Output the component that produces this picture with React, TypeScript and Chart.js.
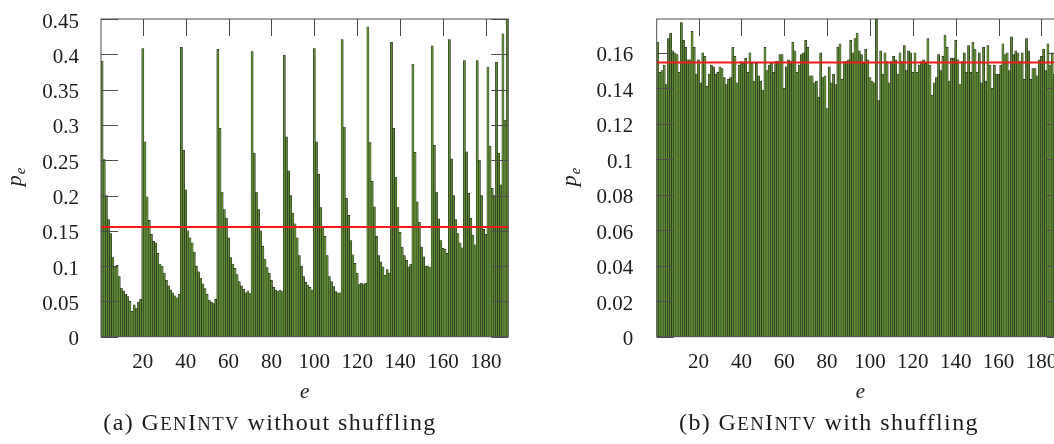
import React, { useEffect, useRef } from "react";
import { Chart, registerables } from "chart.js";

Chart.register(...registerables);

const FONT = '"Liberation Serif", "Times New Roman", serif';

// x (e) axis
const eTicks = [20, 40, 60, 80, 100, 120, 140, 160, 180];
const eMin = 0.5;
const eMax = 190.5;

// y axes
const yTicksNoShuffle = [0, 0.05, 0.1, 0.15, 0.2, 0.25, 0.3, 0.35, 0.4, 0.45];
const yTicksShuffle = [0, 0.02, 0.04, 0.06, 0.08, 0.1, 0.12, 0.14, 0.16];
const yMaxNoShuffle = 0.45;
const yMaxShuffle = 0.179;

// (a) GenIntv without shuffling: p_e for e = 1..190
const pNoShuffle = [
  0.390, 0.251, 0.200, 0.166, 0.146, 0.112, 0.100, 0.101, 0.085, 0.069, 0.065, 0.060, 0.057, 0.050, 0.036, 0.045, 0.040, 0.049, 0.053,
  0.408, 0.276, 0.198, 0.165, 0.145, 0.135, 0.133, 0.118, 0.103, 0.100, 0.090, 0.080, 0.072, 0.066, 0.062, 0.058, 0.055, 0.060,
  0.410, 0.264, 0.208, 0.150, 0.140, 0.133, 0.120, 0.100, 0.092, 0.083, 0.075, 0.068, 0.060, 0.052, 0.049, 0.047, 0.053,
  0.407, 0.295, 0.205, 0.180, 0.168, 0.140, 0.112, 0.103, 0.097, 0.088, 0.078, 0.072, 0.067, 0.062, 0.065, 0.061,
  0.404, 0.260, 0.205, 0.180, 0.150, 0.128, 0.110, 0.098, 0.090, 0.080, 0.070, 0.066, 0.064, 0.066, 0.064,
  0.399, 0.283, 0.235, 0.200, 0.175, 0.160, 0.140, 0.115, 0.100, 0.085, 0.077, 0.073, 0.070, 0.066,
  0.408, 0.276, 0.230, 0.183, 0.156, 0.142, 0.115, 0.085, 0.078, 0.071, 0.064, 0.062, 0.062,
  0.421, 0.297, 0.196, 0.172, 0.136, 0.116, 0.104, 0.090, 0.074, 0.076, 0.074, 0.076,
  0.439, 0.275, 0.220, 0.184, 0.142, 0.115, 0.106, 0.099, 0.087, 0.095, 0.090,
  0.417, 0.295, 0.226, 0.183, 0.148, 0.127, 0.115, 0.108, 0.099, 0.103,
  0.386, 0.261, 0.191, 0.162, 0.127, 0.113, 0.100, 0.100, 0.098,
  0.412, 0.271, 0.205, 0.167, 0.136, 0.125, 0.124, 0.118,
  0.421, 0.252, 0.200, 0.166, 0.146, 0.133, 0.126,
  0.391, 0.262, 0.203, 0.168, 0.144, 0.130,
  0.391, 0.250, 0.200, 0.152, 0.145,
  0.382, 0.270, 0.210, 0.200,
  0.389, 0.260, 0.215,
  0.429, 0.307,
  0.449,
];

// (b) GenIntv with shuffling: p_e for e = 1..190
const pShuffle = [
  0.166, 0.149, 0.150, 0.153, 0.142, 0.168, 0.171, 0.161, 0.160, 0.159,
  0.149, 0.177, 0.167, 0.163, 0.156, 0.156, 0.172, 0.163, 0.148, 0.156,
  0.143, 0.160, 0.158, 0.141, 0.148, 0.153, 0.152, 0.148, 0.149, 0.152,
  0.151, 0.146, 0.142, 0.145, 0.146, 0.163, 0.158, 0.143, 0.153, 0.155,
  0.154, 0.157, 0.149, 0.160, 0.154, 0.144, 0.154, 0.147, 0.144, 0.139,
  0.163, 0.150, 0.153, 0.154, 0.149, 0.155, 0.155, 0.159, 0.159, 0.140,
  0.152, 0.156, 0.155, 0.166, 0.161, 0.149, 0.153, 0.159, 0.160, 0.167,
  0.163, 0.147, 0.147, 0.143, 0.144, 0.135, 0.160, 0.146, 0.147, 0.1285,
  0.152, 0.143, 0.148, 0.142, 0.163, 0.165, 0.145, 0.155, 0.155, 0.156,
  0.167, 0.160, 0.168, 0.171, 0.161, 0.159, 0.154, 0.162, 0.156, 0.146,
  0.144, 0.143, 0.179, 0.133, 0.161, 0.148, 0.160, 0.155, 0.143, 0.155,
  0.158, 0.156, 0.148, 0.160, 0.155, 0.164, 0.150, 0.161, 0.160, 0.149,
  0.160, 0.149, 0.153, 0.155, 0.156, 0.154, 0.168, 0.153, 0.136, 0.143,
  0.146, 0.159, 0.150, 0.158, 0.170, 0.163, 0.144, 0.157, 0.157, 0.167,
  0.156, 0.142, 0.155, 0.160, 0.149, 0.164, 0.149, 0.166, 0.162, 0.149,
  0.160, 0.143, 0.163, 0.144, 0.164, 0.153, 0.140, 0.153, 0.148, 0.148,
  0.153, 0.165, 0.159, 0.160, 0.150, 0.169, 0.159, 0.161, 0.160, 0.155,
  0.160, 0.145, 0.168, 0.161, 0.145, 0.151, 0.151, 0.147, 0.156, 0.158,
  0.162, 0.150, 0.165, 0.153, 0.160, 0.148, 0.162, 0.155, 0.150, 0.158,
];

const meanNoShuffle = 0.1555;
const meanShuffle = 0.1545;

const BAR_FILL = "#5e8a35";
const BAR_EDGE = "#121212";
const AXIS_COLOR = "#4d4d4d";
const TEXT_COLOR = "#1c1c1c";

const CHART_TOP = 19;
const CHART_BOTTOM = 336.7;
const X_AXIS_H = 60;
const PAGE_H = 444;

type PanelProps = {
  values: number[];
  mean: number;
  yTicks: number[];
  yMax: number;
  boxLeft: number;
  boxWidth: number;
  axisWidth: number;
  padRight: number;
  tickPad: number;
};

function fmt(v: number) {
  return String(Number(Number(v).toFixed(4)));
}

const frameTicksPlugin = {
  id: "frameTicks",
  afterDatasetsDraw(chart: any) {
    const { ctx, chartArea, scales } = chart;
    const { left, right, top, bottom } = chartArea;
    const L = 17;
    ctx.save();
    ctx.strokeStyle = AXIS_COLOR;
    ctx.lineWidth = 1;
    ctx.beginPath();
    scales.x.ticks.forEach((t: any) => {
      const px = Math.round(scales.x.getPixelForValue(t.value)) + 0.5;
      ctx.moveTo(px, top);
      ctx.lineTo(px, top + L);
    });
    scales.y.ticks.forEach((t: any) => {
      const py = Math.round(scales.y.getPixelForValue(t.value)) + 0.5;
      ctx.moveTo(left, py);
      ctx.lineTo(left + L, py);
      ctx.moveTo(right, py);
      ctx.lineTo(right - L, py);
    });
    ctx.stroke();
    ctx.strokeRect(left, top, right - left, bottom - top);
    ctx.restore();
  },
};

const titlesPlugin = {
  id: "axisTitles",
  afterDraw(chart: any) {
    const { ctx, chartArea } = chart;
    const { left, right } = chartArea;
    ctx.save();
    ctx.fillStyle = TEXT_COLOR;
    // x title "e"
    ctx.font = `italic 21px ${FONT}`;
    ctx.textAlign = "center";
    ctx.textBaseline = "alphabetic";
    ctx.fillText("e", (left + right) / 2, 398);
    // y title "p_e" rotated
    ctx.translate(left - 80.5, 177);
    ctx.rotate(-Math.PI / 2);
    ctx.textAlign = "left";
    ctx.font = `italic 22px ${FONT}`;
    const wp = ctx.measureText("p").width;
    ctx.font = `italic 15px ${FONT}`;
    const we = ctx.measureText("e").width;
    const total = wp + we + 1;
    ctx.font = `italic 22px ${FONT}`;
    ctx.fillText("p", -total / 2, 0);
    ctx.font = `italic 15px ${FONT}`;
    ctx.fillText("e", -total / 2 + wp + 1, 4);
    ctx.restore();
  },
};

function Panel(p: PanelProps) {
  const ref = useRef<HTMLCanvasElement>(null);
  useEffect(() => {
    const canvas = ref.current;
    if (!canvas) return;
    const points = p.values.map((v, i) => ({ x: i + 1, y: v }));
    const chart = new Chart(canvas, {
      type: "bar",
      data: {
        datasets: [
          {
            type: "line",
            data: [
              { x: eMin, y: p.mean },
              { x: eMax, y: p.mean },
            ],
            borderColor: "#ee1c1c",
            borderWidth: 2,
            pointRadius: 0,
            order: 0,
          } as any,
          {
            type: "bar",
            data: points,
            backgroundColor: BAR_FILL,
            borderColor: BAR_EDGE,
            borderWidth: 0.5,
            borderSkipped: "bottom",
            barPercentage: 1,
            categoryPercentage: 1,
            order: 1,
          } as any,
        ],
      },
      options: {
        animation: false,
        responsive: true,
        maintainAspectRatio: false,
        events: [],
        layout: {
          padding: {
            left: 0,
            top: CHART_TOP,
            right: p.padRight,
            bottom: PAGE_H - CHART_BOTTOM - X_AXIS_H,
          },
        },
        plugins: {
          legend: { display: false },
          tooltip: { enabled: false },
        },
        scales: {
          x: {
            type: "linear",
            min: eMin,
            max: eMax,
            offset: false,
            grid: { display: false, drawTicks: false },
            border: { display: false },
            ticks: {
              font: { family: FONT, size: 21 },
              color: TEXT_COLOR,
              padding: 13,
              maxRotation: 0,
              autoSkip: false,
              callback: (v: any) => String(v),
            },
            afterBuildTicks: (s: any) => {
              s.ticks = eTicks.map((v) => ({ value: v }));
            },
            afterFit: (s: any) => {
              s.height = X_AXIS_H;
              s.paddingLeft = 0;
              s.paddingRight = 0;
            },
          },
          y: {
            type: "linear",
            min: 0,
            max: p.yMax,
            grid: { display: false, drawTicks: false },
            border: { display: false },
            ticks: {
              font: { family: FONT, size: 21 },
              color: TEXT_COLOR,
              padding: p.tickPad,
              labelOffset: 3,
              autoSkip: false,
              callback: (v: any) => fmt(v),
            },
            afterBuildTicks: (s: any) => {
              s.ticks = p.yTicks.map((v) => ({ value: v }));
            },
            afterFit: (s: any) => {
              s.width = p.axisWidth;
              s.paddingTop = 0;
              s.paddingBottom = 0;
            },
          },
        },
      } as any,
      plugins: [frameTicksPlugin, titlesPlugin],
    });
    return () => chart.destroy();
  }, []);
  return (
    <div
      style={{
        position: "absolute",
        left: p.boxLeft,
        top: 0,
        width: p.boxWidth,
        height: PAGE_H,
      }}
    >
      <canvas ref={ref} />
    </div>
  );
}

const captionStyle: React.CSSProperties = {
  position: "absolute",
  top: 410,
  width: 440,
  textAlign: "center",
  fontFamily: FONT,
  fontSize: 24,
  lineHeight: "24px",
  letterSpacing: "1.4px",
  color: TEXT_COLOR,
  whiteSpace: "nowrap",
};

const sc: React.CSSProperties = { fontSize: "0.78em" };

function GenIntv() {
  return (
    <span>
      G<span style={sc}>EN</span>I<span style={sc}>NTV</span>
    </span>
  );
}

export default function App() {
  return (
    <div
      style={{
        position: "fixed",
        left: 0,
        top: 0,
        width: 1054,
        height: PAGE_H,
        overflow: "hidden",
        background: "#ffffff",
      }}
    >
      <Panel
        values={pNoShuffle}
        mean={meanNoShuffle}
        yTicks={yTicksNoShuffle}
        yMax={yMaxNoShuffle}
        boxLeft={0}
        boxWidth={530}
        axisWidth={101}
        padRight={21.7}
        tickPad={22}
      />
      <Panel
        values={pShuffle}
        mean={meanShuffle}
        yTicks={yTicksShuffle}
        yMax={yMaxShuffle}
        boxLeft={540}
        boxWidth={560}
        axisWidth={116.7}
        padRight={36}
        tickPad={23.5}
      />
      <div style={{ ...captionStyle, left: 270 - 220 }}>
        (a) <GenIntv /> without shuffling
      </div>
      <div style={{ ...captionStyle, left: 829 - 220 }}>
        (b) <GenIntv /> with shuffling
      </div>
    </div>
  );
}
